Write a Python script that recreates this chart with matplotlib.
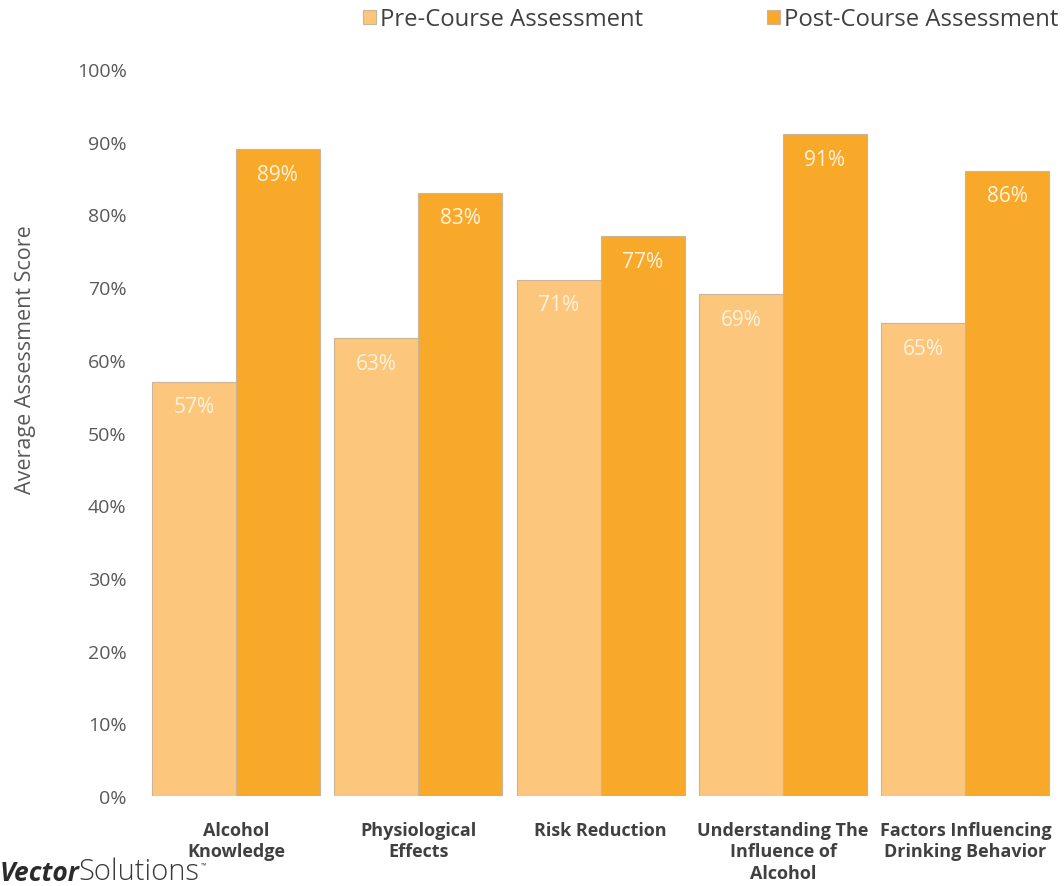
import matplotlib
matplotlib.use("Agg")
import matplotlib.pyplot as plt
import numpy as np
from matplotlib.ticker import FuncFormatter

categories = ["Alcohol\nKnowledge", "Physiological\nEffects", "Risk Reduction",
              "Understanding The\nInfluence of\nAlcohol", "Factors Influencing\nDrinking Behavior"]
pre_scores = [57, 63, 71, 69, 65]
post_scores = [89, 83, 77, 91, 86]
series_names = ["Pre-Course Assessment", "Post-Course Assessment"]
yticks = [0, 10, 20, 30, 40, 50, 60, 70, 80, 90, 100]

pre_color = "#FCC67C"
post_color = "#F9A92A"
edge_color = "#C9B69A"

plt.rcParams['font.family'] = ['Open Sans', 'DejaVu Sans']

fig = plt.figure(figsize=(10.64, 8.87), dpi=100)
ax = fig.add_axes([0.136, 0.1015, 0.857, 0.8195])

x = np.arange(len(categories))
w = 0.46
b1 = ax.bar(x - w/2, pre_scores, width=w, color=pre_color, edgecolor=edge_color, linewidth=0.8,
            label=series_names[0])
b2 = ax.bar(x + w/2, post_scores, width=w, color=post_color, edgecolor=edge_color, linewidth=0.8,
            label=series_names[1])

for bars, vals in ((b1, pre_scores), (b2, post_scores)):
    for r, v in zip(bars, vals):
        ax.annotate(f"{v}%", (r.get_x() + r.get_width()/2, v), xytext=(0, -25),
                    textcoords="offset pixels", ha="center", va="center",
                    color="#FFF3DC", fontsize=15)

ax.set_xlim(-0.5, len(categories) - 0.5)
ax.set_ylim(0, 100)
ax.set_yticks(yticks)
ax.yaxis.set_major_formatter(FuncFormatter(lambda v, p: f"{int(v)}%"))
ax.set_xticks(x)
ax.set_xticklabels(categories, fontsize=13, fontweight="bold", color="#404040", linespacing=1.25)
ax.tick_params(axis="y", labelsize=14, colors="#595959", length=0, pad=13)
ax.tick_params(axis="x", length=0, pad=18)
for s in ax.spines.values():
    s.set_visible(False)

fig.text(0.0235, 0.594, "Average Assessment Score", rotation=90, ha="center", va="center",
         fontsize=15.5, color="#595959")

handles = [plt.Rectangle((0, 0), 1, 1, facecolor=pre_color, edgecolor=edge_color, linewidth=0.8),
           plt.Rectangle((0, 0), 1, 1, facecolor=post_color, edgecolor=edge_color, linewidth=0.8)]
fig.legend(handles, series_names, loc="center", bbox_to_anchor=(0.668, 0.977), ncol=2,
           frameon=False, fontsize=17.2, handlelength=0.55, handleheight=0.55, handletextpad=0.15,
           columnspacing=5.2, labelcolor="#404040")

fig.text(0.0, 0.0, "Vector", fontsize=19, fontweight="bold", style="italic",
         color="#2B2B2B", ha="left", va="bottom")
fig.text(0.074, 0.0, "Solutions", fontsize=21, fontweight="light",
         color="#3A3A3A", ha="left", va="bottom")
fig.text(0.189, 0.02, "™", fontsize=5, color="#3A3A3A", ha="left", va="bottom")

fig.savefig("out.png", dpi=100)
